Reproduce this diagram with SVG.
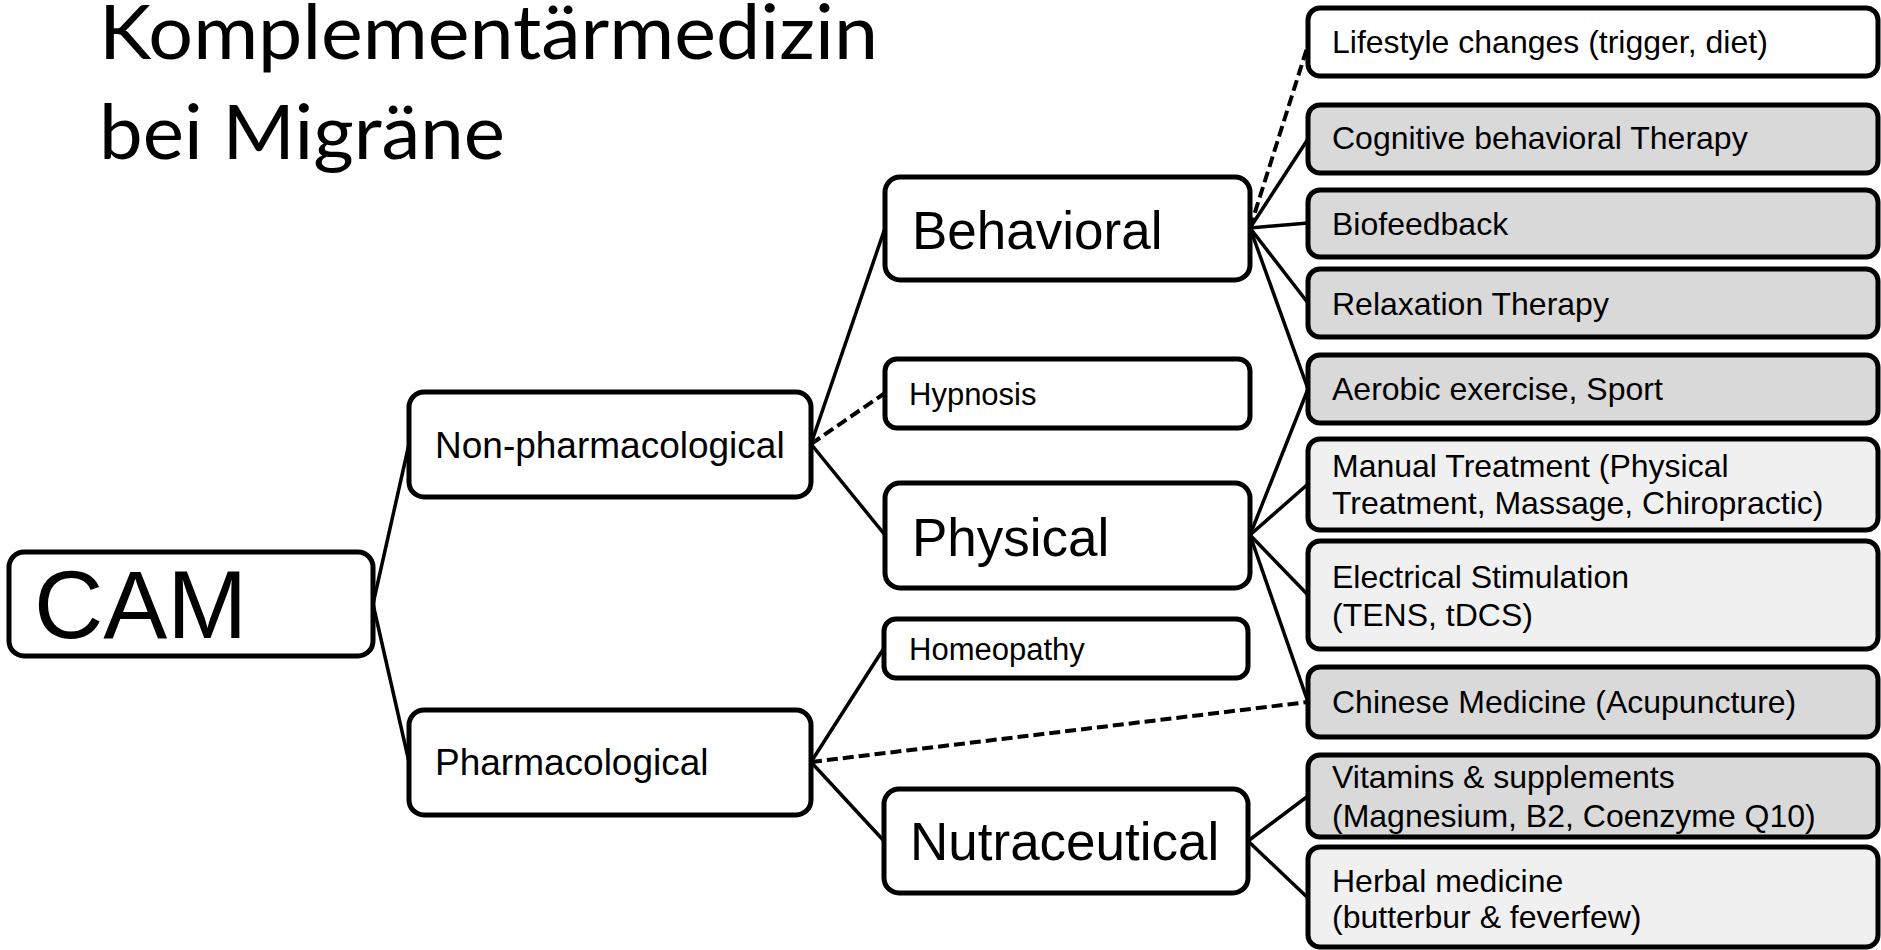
<svg xmlns="http://www.w3.org/2000/svg" width="1881" height="950" viewBox="0 0 1881 950">
<style>
.box{stroke:#000;stroke-width:5;fill:#fff}
.g{fill:#d9d9d9}
.l{fill:#f0f0f0}
.t{font-family:"Liberation Sans",Arial,sans-serif;fill:#000}
.s{font-size:32px}
.m{font-size:37px}
.h{font-size:31px}
.b{font-size:53px}
.c{stroke:#000;stroke-width:3.5;fill:none}
.d{stroke:#000;stroke-width:4;fill:none;stroke-dasharray:11 5}
.title{font-family:Lato,"Open Sans",sans-serif;font-size:75px;fill:#000}
</style>
<g id="title">
<text class="title" x="99" y="59" textLength="779" lengthAdjust="spacingAndGlyphs">Komplementärmedizin</text>
<text class="title" x="99" y="159" textLength="406" lengthAdjust="spacingAndGlyphs">bei Migräne</text>
</g>
<g id="connectors">
<line class="c" x1="373" y1="604" x2="409" y2="444"/>
<line class="c" x1="373" y1="604" x2="409" y2="762"/>
<line class="c" x1="811" y1="444" x2="885" y2="228"/>
<line class="d" x1="811" y1="444" x2="885" y2="393"/>
<line class="c" x1="811" y1="444" x2="885" y2="535"/>
<line class="c" x1="811" y1="762" x2="884" y2="648"/>
<line class="c" x1="811" y1="762" x2="884" y2="841"/>
<line class="d" x1="811" y1="762" x2="1308" y2="702"/>
<line class="d" x1="1250" y1="228" x2="1308" y2="45"/>
<line class="c" x1="1250" y1="228" x2="1308" y2="139"/>
<line class="c" x1="1250" y1="228" x2="1308" y2="223"/>
<line class="c" x1="1250" y1="228" x2="1308" y2="303"/>
<line class="c" x1="1250" y1="228" x2="1308" y2="389"/>
<line class="c" x1="1250" y1="535" x2="1308" y2="389"/>
<line class="c" x1="1250" y1="535" x2="1308" y2="484"/>
<line class="c" x1="1250" y1="535" x2="1308" y2="595"/>
<line class="c" x1="1250" y1="535" x2="1308" y2="702"/>
<line class="c" x1="1248" y1="841" x2="1308" y2="796"/>
<line class="c" x1="1248" y1="841" x2="1308" y2="898"/>
</g>
<g id="cam"><rect class="box" x="9" y="552" width="364" height="104" rx="15"/><text class="t" x="34" y="638" font-size="96">CAM</text></g>
<g id="nonpharm"><rect class="box" x="409" y="392" width="402" height="105" rx="15"/><text class="t m" x="435" y="458">Non-pharmacological</text></g>
<g id="pharm"><rect class="box" x="409" y="710" width="402" height="105" rx="15"/><text class="t m" x="435" y="775">Pharmacological</text></g>
<g id="behavioral"><rect class="box" x="885" y="177" width="365" height="103" rx="15"/><text class="t b" x="912" y="249">Behavioral</text></g>
<g id="hypnosis"><rect class="box" x="885" y="359" width="365" height="69" rx="12"/><text class="t h" x="909" y="405">Hypnosis</text></g>
<g id="physical"><rect class="box" x="885" y="483" width="365" height="105" rx="15"/><text class="t b" x="912" y="556">Physical</text></g>
<g id="homeopathy"><rect class="box" x="884" y="619" width="364" height="59" rx="12"/><text class="t h" x="909" y="660">Homeopathy</text></g>
<g id="nutraceutical"><rect class="box" x="884" y="789" width="364" height="104" rx="15"/><text class="t b" x="910" y="860">Nutraceutical</text></g>
<g id="lifestyle"><rect class="box" x="1308" y="8" width="570" height="68" rx="12"/><text class="t s" x="1332" y="53">Lifestyle changes (trigger, diet)</text></g>
<g id="cbt"><rect class="box g" x="1308" y="105" width="570" height="68" rx="12"/><text class="t s" x="1332" y="149">Cognitive behavioral Therapy</text></g>
<g id="biofeedback"><rect class="box g" x="1308" y="190" width="570" height="67" rx="12"/><text class="t s" x="1332" y="235">Biofeedback</text></g>
<g id="relaxation"><rect class="box g" x="1308" y="269" width="570" height="68" rx="12"/><text class="t s" x="1332" y="315">Relaxation Therapy</text></g>
<g id="aerobic"><rect class="box g" x="1308" y="355" width="570" height="68" rx="12"/><text class="t s" x="1332" y="400">Aerobic exercise, Sport</text></g>
<g id="manual"><rect class="box l" x="1308" y="439" width="570" height="91" rx="12"/><text class="t s" x="1332" y="477">Manual Treatment (Physical</text><text class="t s" x="1332" y="514">Treatment, Massage, Chiropractic)</text></g>
<g id="electrical"><rect class="box l" x="1308" y="541" width="570" height="108" rx="12"/><text class="t s" x="1332" y="588">Electrical Stimulation</text><text class="t s" x="1332" y="626">(TENS, tDCS)</text></g>
<g id="chinese"><rect class="box g" x="1308" y="667" width="570" height="70" rx="12"/><text class="t s" x="1332" y="713">Chinese Medicine (Acupuncture)</text></g>
<g id="vitamins"><rect class="box g" x="1308" y="755" width="570" height="82" rx="12"/><text class="t s" x="1332" y="788">Vitamins &amp; supplements</text><text class="t s" x="1332" y="827">(Magnesium, B2, Coenzyme Q10)</text></g>
<g id="herbal"><rect class="box l" x="1308" y="847" width="570" height="100" rx="12"/><text class="t s" x="1332" y="892">Herbal medicine</text><text class="t s" x="1332" y="928">(butterbur &amp; feverfew)</text></g>
</svg>
